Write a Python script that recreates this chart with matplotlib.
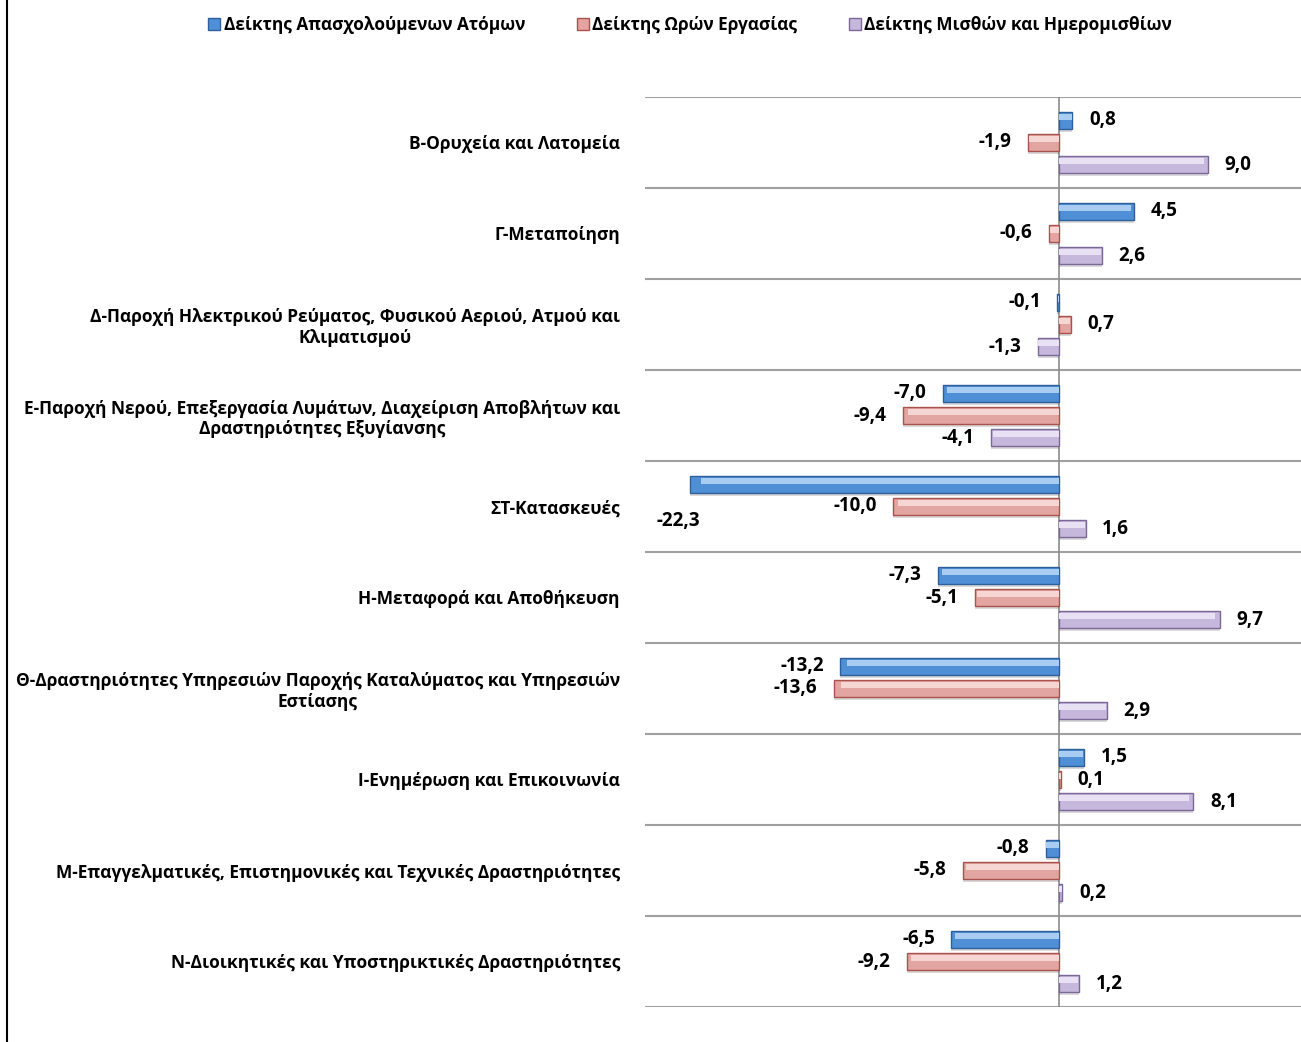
"""
Horizontal grouped bar chart: change of employment, hours worked and
wage indices by economic sector (Greek labels).
"""

import numpy as np
import matplotlib.pyplot as plt
from matplotlib.patches import Patch
from matplotlib.lines import Line2D

plt.rcParams['font.family'] = ['Open Sans', 'DejaVu Sans']
plt.rcParams['font.weight'] = 'bold'

# Data
categories = [
    'Β-Ορυχεία και Λατομεία',
    'Γ-Μεταποίηση',
    'Δ-Παροχή Ηλεκτρικού Ρεύματος, Φυσικού Αεριού, Ατμού και\nΚλιματισμού',
    'Ε-Παροχή Νερού, Επεξεργασία Λυμάτων, Διαχείριση Αποβλήτων και\nΔραστηριότητες Εξυγίανσης',
    'ΣΤ-Κατασκευές',
    'Η-Μεταφορά και Αποθήκευση',
    'Θ-Δραστηριότητες Υπηρεσιών Παροχής Καταλύματος και Υπηρεσιών\nΕστίασης',
    'Ι-Ενημέρωση και Επικοινωνία',
    'Μ-Επαγγελματικές, Επιστημονικές και Τεχνικές Δραστηριότητες',
    'Ν-Διοικητικές και Υποστηρικτικές Δραστηριότητες',
]
employment = [0.8, 4.5, -0.1, -7.0, -22.3, -7.3, -13.2, 1.5, -0.8, -6.5]
hours = [-1.9, -0.6, 0.7, -9.4, -10.0, -5.1, -13.6, 0.1, -5.8, -9.2]
wages = [9.0, 2.6, -1.3, -4.1, 1.6, 9.7, 2.9, 8.1, 0.2, 1.2]
series_names = [
    'Δείκτης Απασχολούμενων Ατόμων',
    'Δείκτης Ωρών Εργασίας',
    'Δείκτης Μισθών και Ημερομισθίων',
]

# fill, edge, highlight colours per series
fills = ['#4F8FD6', '#E3A5A1', '#C6B8DC']
edges = ['#2E5F9A', '#A8524E', '#7C6799']
highlights = ['#A9CDF2', '#F6D6D3', '#E8E0F3']

fig = plt.figure(figsize=(13.01, 10.42), dpi=100)
ax = fig.add_axes([645 / 1301, 1 - 1007 / 1042, 1 - 645 / 1301, (1007 - 97) / 1042])

y = np.arange(len(categories))
offsets = [-0.242, 0.0, 0.242]
bar_h = 0.19
fs_cat = 12.5
fs_val = 13.5
fs_leg = 12.4

for k, vals in enumerate([employment, hours, wages]):
    yy = y + offsets[k]
    # faint shadow
    ax.barh(yy + 0.03, vals, height=bar_h, left=0, color='#000000', alpha=0.15, zorder=2)
    ax.barh(yy, vals, height=bar_h, color=fills[k], edgecolor=edges[k], linewidth=1.0, zorder=3)
    # bevel highlight along the top
    ax.barh(yy - bar_h * 0.2, np.array(vals) * 0.97, height=bar_h * 0.3,
            color=highlights[k], linewidth=0, zorder=4)
    for yi, v in zip(yy, vals):
        txt = f'{v:.1f}'.replace('.', ',')
        if v == -22.3:
            # Excel put this one underneath the long bar
            ax.text(v - 0.7, yi + 0.4, txt, ha='center', va='center',
                    fontsize=fs_val, fontweight='bold', zorder=5)
        elif v >= 0:
            ax.text(v + 1.0, yi, txt, ha='left', va='center',
                    fontsize=fs_val, fontweight='bold', zorder=5)
        else:
            ax.text(v - 1.0, yi, txt, ha='right', va='center',
                    fontsize=fs_val, fontweight='bold', zorder=5)

ax.set_xlim(-25, 14.6)
ax.set_ylim(len(categories) - 0.5, -0.5)

# category separators and zero line
for b in np.arange(len(categories) + 1) - 0.5:
    ax.axhline(b, color='#A0A0A0', linewidth=1.5, zorder=1)
ax.axvline(0, color='#8C8C8C', linewidth=1.2, zorder=1)

ax.set_xticks([])
ax.set_yticks(y)
ax.set_yticklabels(categories, fontsize=fs_cat, fontweight='bold', multialignment='center')
ax.tick_params(axis='y', length=0, pad=18)
for s in ax.spines.values():
    s.set_visible(False)

# legend
handles = [Patch(facecolor=fills[k], edgecolor=edges[k]) for k in range(3)]
fig.legend(handles, series_names, loc='center', ncol=3,
           bbox_to_anchor=(690 / 1301, 1 - 25 / 1042), frameon=False,
           prop={'size': fs_leg, 'weight': 'bold'}, handlelength=0.7, handleheight=0.7,
           handletextpad=0.2, columnspacing=3.0)

# left border of the chart frame
fig.add_artist(Line2D([7 / 1301, 7 / 1301], [0, 1], color='#000000', linewidth=1.5))

fig.savefig('out.png', dpi=100)
